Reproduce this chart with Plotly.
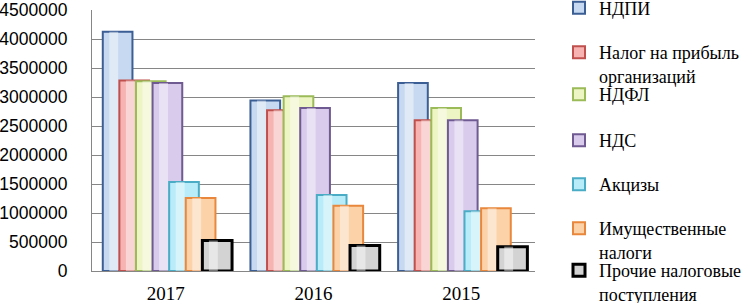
import plotly.graph_objects as go

years = ["2017", "2016", "2015"]
series_names = [
    "НДПИ",
    "Налог на прибыль<br>организаций",
    "НДФЛ",
    "НДС",
    "Акцизы",
    "Имущественные<br>налоги",
    "Прочие налоговые<br>поступления",
]
ndpi = [4125000, 2940000, 3240000]
profit_tax = [3285000, 2770000, 2600000]
ndfl = [3270000, 3015000, 2810000]
nds = [3240000, 2810000, 2600000]
excise = [1535000, 1310000, 1030000]
property_tax = [1260000, 1125000, 1080000]
other = [525000, 440000, 420000]
y_ticks = [0, 500000, 1000000, 1500000, 2000000, 2500000, 3000000, 3500000, 4000000, 4500000]

values = [ndpi, profit_tax, ndfl, nds, excise, property_tax, other]
fills = ["#c6d9f1", "#f6b3b2", "#eef5c4", "#d8cbec", "#b8ecf8", "#fcd2a8", "#d3d3d3"]
borders = ["#3b5e95", "#c0504d", "#9bbb59", "#6f5a91", "#4bacc6", "#e9883c", "#000000"]
line_w = [2, 2, 2, 2, 2, 2, 3]
# first-line centre of each legend entry, px from top of the visible picture
legend_line_y = [7.5, 52, 94, 140, 184, 228, 270]

BAR_W = 0.201
STEP = 0.1124
START = -0.427
SHIFT = 11  # hidden strip above the visible window, lets the top legend sit higher
FIG_W, FIG_H = 748, 303 + SHIFT
LEG_OFFSET = 18  # distance from legend box top to first text line centre
SERIF = "Liberation Serif, Times New Roman, DejaVu Serif, serif"

fig = go.Figure()
legend_layouts = {}
for i, (name, vals) in enumerate(zip(series_names, values)):
    lg = "legend" if i == 0 else f"legend{i + 1}"
    fig.add_trace(go.Bar(
        x=years, y=vals, name=name, legend=lg,
        offset=START + i * STEP, width=BAR_W,
        marker=dict(color=fills[i], line=dict(color=borders[i], width=line_w[i])),
    ))
    fig.add_trace(go.Bar(
        x=years, y=vals, showlegend=False, hoverinfo="skip",
        offset=START + i * STEP + BAR_W * 0.22, width=BAR_W * 0.3,
        marker=dict(color="rgba(255,255,255,0.45)", line=dict(width=0)),
    ))
    legend_layouts[lg] = dict(
        x=559 / FIG_W, xref="container", xanchor="left",
        y=min(1.0, 1 - (legend_line_y[i] + SHIFT - LEG_OFFSET) / FIG_H),
        yref="container", yanchor="top",
        font=dict(family=SERIF, size=18, color="#000"),
        valign="top", bgcolor="rgba(0,0,0,0)",
        itemclick=False, itemdoubleclick=False,
    )

fig.update_layout(
    width=FIG_W, height=FIG_H,
    margin=dict(l=92, r=213, t=10 + SHIFT, b=32, autoexpand=False),
    barmode="overlay",
    plot_bgcolor="white", paper_bgcolor="white",
    showlegend=True,
    xaxis=dict(
        type="category", categoryorder="array", categoryarray=years,
        range=[-0.5, 2.5], automargin=False,
        showline=True, linecolor="#868686", linewidth=1,
        showgrid=False, ticks="", ticklabelstandoff=5,
        tickfont=dict(family=SERIF, size=19, color="#000"),
    ),
    yaxis=dict(
        range=[0, 4500000], tickvals=y_ticks, automargin=False,
        ticktext=[str(v) for v in y_ticks],
        showline=True, linecolor="#868686", linewidth=1,
        showgrid=True, gridcolor="#868686", gridwidth=1,
        ticks="", ticklabelstandoff=20,
        tickfont=dict(family="Liberation Sans, Arial, sans-serif", size=17.5, color="#000"),
        zeroline=False,
    ),
    **legend_layouts,
)

fig.write_html(
    "out.html",
    config={"displayModeBar": False},
    post_script=(
        "document.body.style.margin='0';document.body.style.overflow='hidden';"
        "var d=document.getElementById('{plot_id}');"
        "d.style.position='relative';d.style.top='-" + str(SHIFT) + "px';"
    ),
)
